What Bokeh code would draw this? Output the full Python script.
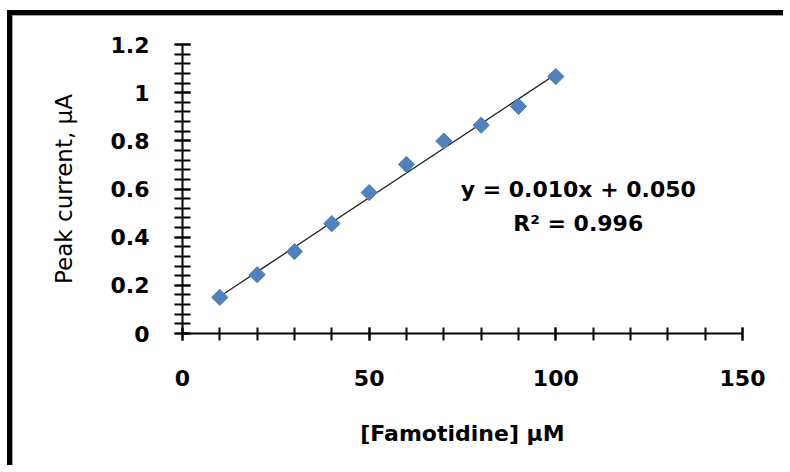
import numpy as np
from bokeh.plotting import figure
from bokeh.models import FixedTicker, Range1d, Label, ColumnDataSource
from bokeh.embed import file_html
from bokeh.resources import INLINE

# ---- data ----
famotidine_uM = [10, 20, 30, 40, 50, 60, 70, 80, 90, 100]
peak_current_uA = [0.150, 0.244, 0.340, 0.456, 0.585, 0.702, 0.799, 0.865, 0.943, 1.067]

x_ticks = [0, 50, 100, 150]
x_minor_ticks = [0, 10, 20, 30, 40, 50, 60, 70, 80, 90, 100, 110, 120, 130, 140, 150]
y_ticks = [0, 0.2, 0.4, 0.6, 0.8, 1, 1.2]
y_tick_labels = ["0", "0.2", "0.4", "0.6", "0.8", "1", "1.2"]
y_minor_ticks = [round(i * 0.04, 2) for i in range(31)]

equation_text = "y = 0.010x + 0.050"
r2_text = "R\u00b2 = 0.996"
x_title = "[Famotidine] \u03bcM"
y_title = "Peak current, \u03bcA"

# linear trendline (least squares on the data)
slope, intercept = np.polyfit(famotidine_uM, peak_current_uA, 1)
trend_x = [min(famotidine_uM), max(famotidine_uM)]
trend_y = [slope * v + intercept for v in trend_x]

W, H = 776, 455
p = figure(width=W, height=H, output_backend="svg", toolbar_location=None,
           x_range=Range1d(0, 150), y_range=Range1d(0, 1.2),
           min_border_left=169, min_border_right=W - 169 - 560,
           min_border_top=28, min_border_bottom=H - 28 - 289)
p.background_fill_color = "white"
p.border_fill_color = "white"
p.outline_line_color = None
p.grid.visible = False
p.styles = {"margin-left": "7px", "margin-top": "10px",
            "border-left": "5px solid black", "border-top": "5px solid black",
            "padding-left": "1px", "padding-top": "1px",
            "background-color": "white",
            "box-shadow": "inset 1px 1px 0 #a0a0a0"}

FONT = "DejaVu Sans"

# x axis
xa = p.xaxis[0]
xa.ticker = FixedTicker(ticks=x_ticks, minor_ticks=x_minor_ticks)
xa.axis_line_color = "black"
xa.axis_line_width = 2
xa.major_tick_line_color = "black"
xa.major_tick_line_width = 2
xa.minor_tick_line_color = "black"
xa.minor_tick_line_width = 2
xa.major_tick_in = 6
xa.major_tick_out = 7
xa.minor_tick_in = 6
xa.minor_tick_out = 7
xa.major_label_text_font = FONT
xa.major_label_text_font_style = "bold"
xa.major_label_text_font_size = "22px"
xa.major_label_text_color = "black"
xa.major_label_standoff = 29
xa.axis_label = x_title
xa.axis_label_text_font = FONT
xa.axis_label_text_font_style = "bold"
xa.axis_label_text_font_size = "22px"
xa.axis_label_text_color = "black"
xa.axis_label_standoff = 32

# y axis
ya = p.yaxis[0]
ya.ticker = FixedTicker(ticks=y_ticks, minor_ticks=y_minor_ticks)
ya.major_label_overrides = dict(zip(y_ticks, y_tick_labels))
ya.axis_line_color = "black"
ya.axis_line_width = 2
ya.major_tick_line_color = "black"
ya.major_tick_line_width = 2
ya.minor_tick_line_color = "black"
ya.minor_tick_line_width = 2
ya.major_tick_in = 8
ya.major_tick_out = 8
ya.minor_tick_in = 8
ya.minor_tick_out = 8
ya.major_label_text_font = FONT
ya.major_label_text_font_style = "bold"
ya.major_label_text_font_size = "22px"
ya.major_label_text_color = "black"
ya.major_label_standoff = 25
ya.major_label_orientation = "horizontal"
ya.axis_label = y_title
ya.axis_label_text_font = FONT
ya.axis_label_text_font_style = "normal"
ya.axis_label_text_font_size = "23px"
ya.axis_label_text_color = "black"
ya.axis_label_standoff = 31

# trendline and data points
p.line(trend_x, trend_y, line_color="#202020", line_width=1.3)
src = ColumnDataSource(dict(x=famotidine_uM, y=peak_current_uA))
p.scatter("x", "y", source=src, marker="square", angle=np.pi / 4, size=11.5,
          fill_color="#4F81BD", line_color="#4F81BD")

# equation labels
p.add_layout(Label(x=106, y=0.60, text=equation_text, text_align="center",
                   text_baseline="middle", text_font=FONT, text_font_style="bold",
                   text_font_size="22px", text_color="black"))
p.add_layout(Label(x=106, y=0.455, text=r2_text, text_align="center",
                   text_baseline="middle", text_font=FONT, text_font_style="bold",
                   text_font_size="22px", text_color="black"))

open("out.html", "w").write(file_html(p, INLINE))
